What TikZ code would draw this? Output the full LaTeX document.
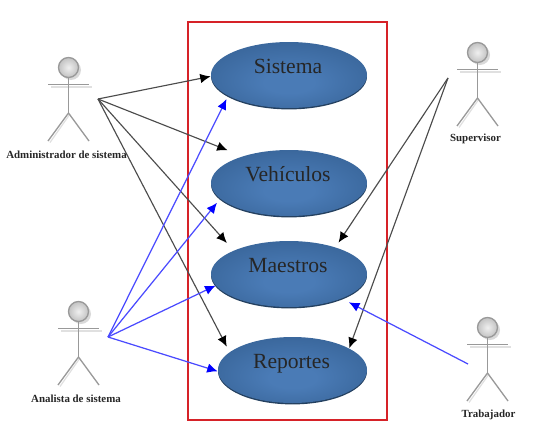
\documentclass[tikz,border=0pt]{standalone}
\usepackage{xcolor}
\usepackage{fontspec}
\setmainfont{Liberation Serif}
\usepackage{tikz}
\usetikzlibrary{arrows.meta,shapes.geometric,shadows}
\definecolor{frame}{HTML}{D62228}
\definecolor{ucin}{HTML}{4A7BB6}
\definecolor{ucout}{HTML}{2B5483}
\definecolor{ucrim}{HTML}{24405F}
\definecolor{blueline}{HTML}{4A4AFF}
\pgfdeclareradialshading{usecase}{\pgfpoint{0bp}{-7bp}}{color(0bp)=(ucin); color(8bp)=(ucin); color(48bp)=(ucout)}

\begin{document}
\begin{tikzpicture}[
  ucase/.style={ellipse, shading=usecase, inner sep=0pt, minimum height=13.2mm, minimum width=31.2mm,
                drop shadow={shadow xshift=0pt, shadow yshift=-0.8pt, opacity=1, fill=ucrim},
                label={[font=\fontsize{12.3}{14}\selectfont, text=black!85, text height=1.4ex, text depth=0pt, xshift=-0.2mm, yshift=1.35mm]center:#1}},
  who/.style={font=\fontsize{6.2}{7}\selectfont\bfseries, text=black!85, inner sep=0pt},
  ar/.style={-{Latex[length=2.1mm, width=1.9mm, black]}, black!70, line width=0.65pt},
  arb/.style={-{Latex[length=2.1mm, width=1.9mm, blue]}, blueline, line width=0.7pt},
  actor/.pic={
    % shadow first, then the figure on top
    \fill[black!15] (0.05,-0.05) circle (0.2);
    \draw[black!12, line width=0.7pt] (-0.35,-0.39) -- (0.47,-0.39);
    \draw[black!12, line width=0.7pt] (0.03,-0.93) -- (-0.37,-1.5);
    \shade[draw=black!40, line width=0.75pt, inner color=black!6, outer color=black!24] (0,0) circle (0.2);
    \draw[black!40, line width=0.75pt] (0,-0.2) -- (0,-0.91);
    \draw[black!40, line width=0.75pt] (-0.41,-0.34) -- (0.41,-0.34);
    \draw[black!40, line width=0.75pt] (-0.41,-1.47) -- (0,-0.91) -- (0.41,-1.47);
  }
]
\useasboundingbox (0,0) rectangle (10.86,-8.6);

% =============== system frame ===============
\node[draw=frame, line width=1.2pt, minimum width=39.8mm, minimum height=79.6mm, inner sep=0pt] (frm) at (5.75,-4.42) {};

\node[ucase=Sistema]   (sis) at (5.78,-1.50) {};
\node[ucase=Vehículos] (veh) at (5.78,-3.66) {};
\node[ucase=Maestros]  (mae) at (5.78,-5.48) {};
\node[ucase=Reportes, minimum width=29.8mm] (rep) at (5.85,-7.40) {};

% =============== actors ===============
\pic at (1.37,-1.35) {actor};
\pic at (1.57,-6.23) {actor};
\pic at (9.55,-1.05) {actor};
\pic at (9.75,-6.55) {actor};

\node[who] (admtxt) at (1.33,-3.10) {Administrador de sistema};
\node[who] (anatxt) at (1.52,-7.98) {Analista de sistema};
\node[who] (suptxt) at (9.51,-2.78) {Supervisor};
\node[who] (tratxt) at (9.77,-8.29) {Trabajador};

\coordinate (adm) at (1.96,-1.98);
\coordinate (ana) at (2.16,-6.74);
\coordinate (sup) at (8.96,-1.56);
\coordinate (tra) at (9.36,-7.28);

% =============== connectors ===============
\draw[ar] (adm) -- (sis.181);
\draw[ar, shorten >=3.2mm] (adm) -- (veh.150.6);
\draw[ar, shorten >=2.0mm] (adm) -- (mae.157);
\draw[ar, shorten >=1.2mm] (adm) -- (rep.164.2);

\draw[ar, shorten >=1.1mm] (sup) -- (mae.30);
\draw[ar] (sup) -- (rep.21.7);

\draw[arb, shorten >=0.7mm] (ana) -- (sis.199.4);
\draw[arb, shorten >=1.0mm] (ana) -- (veh.193.5);
\draw[arb] (ana) -- (mae.189.3);
\draw[arb] (ana) -- (rep.181);
\draw[arb, shorten >=1.6mm] (tra) -- (mae.335.4);
\end{tikzpicture}
\end{document}
